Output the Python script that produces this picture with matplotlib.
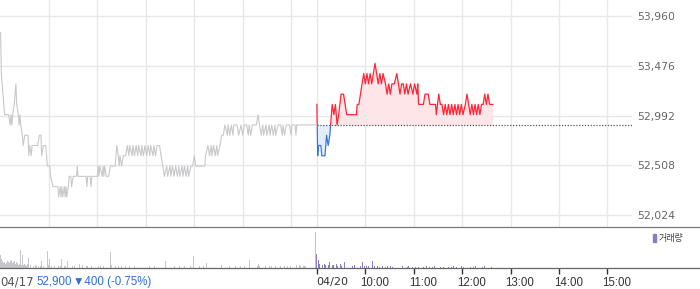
import numpy as np
import matplotlib
matplotlib.use("Agg")
import matplotlib.pyplot as plt
from matplotlib.patches import Rectangle
import matplotlib.transforms as mtransforms

# ---------------- data ----------------
prev_close = 52900          # 04/17 close (base line for 04/20)
day2_offset = 392           # x position (minutes) of 04/20 09:00 on the shared axis

# 04/17 intraday: minutes after 09:00, price
d1_min = [0, 1, 2, 3, 4, 5, 10, 12, 13, 14, 15, 17, 19, 20, 22, 23, 24, 25, 27, 28, 30, 34, 35, 36, 38, 39,
          46, 48, 50, 51, 53, 56, 58, 61, 62, 65, 71, 72, 74, 75, 76, 77, 79, 80, 81, 82, 84, 85, 87, 88,
          90, 94, 95, 96, 106, 107, 108, 111, 112, 113, 120, 121, 122, 123, 126, 127, 128, 129, 131, 134,
          136, 142, 144, 146, 147, 148, 150, 152, 155, 157, 159, 160, 163, 164, 166, 168, 170, 171, 174,
          175, 177, 179, 181, 183, 185, 186, 189, 190, 192, 194, 197, 199, 201, 203, 206, 207, 210, 211,
          213, 215, 217, 219, 221, 222, 225, 226, 228, 230, 232, 233, 236, 238, 240, 242, 253, 254, 257,
          259, 261, 262, 264, 266, 268, 269, 272, 274, 276, 278, 281, 282, 284, 286, 288, 289, 293, 295,
          298, 300, 302, 305, 307, 308, 310, 312, 317, 319, 321, 323, 325, 326, 329, 330, 333, 334, 336,
          338, 340, 341, 344, 347, 349, 350, 352, 354, 358, 360, 361, 365, 366, 367, 390]
d1_price = [53800, 53400, 53300, 53200, 53100, 53000, 53000, 52900, 53000, 52900, 53000, 53100, 53300,
            53100, 53000, 52900, 53000, 52900, 52800, 52700, 52800, 52800, 52600, 52700, 52600, 52700,
            52700, 52800, 52800, 52600, 52700, 52700, 52500, 52500, 52400, 52300, 52300, 52200, 52300,
            52200, 52300, 52200, 52300, 52200, 52300, 52200, 52300, 52400, 52400, 52300, 52400, 52400,
            52500, 52400, 52400, 52300, 52400, 52400, 52300, 52400, 52400, 52500, 52400, 52500, 52400,
            52500, 52400, 52500, 52400, 52400, 52500, 52500, 52700, 52600, 52500, 52600, 52500, 52600,
            52600, 52700, 52600, 52700, 52600, 52700, 52600, 52700, 52600, 52700, 52600, 52700, 52600,
            52700, 52600, 52700, 52600, 52700, 52600, 52700, 52600, 52700, 52700, 52600, 52500, 52400,
            52500, 52400, 52500, 52400, 52500, 52400, 52500, 52400, 52500, 52400, 52500, 52400, 52500,
            52400, 52500, 52400, 52500, 52500, 52600, 52500, 52500, 52600, 52700, 52600, 52700, 52600,
            52700, 52600, 52700, 52600, 52700, 52800, 52800, 52900, 52800, 52900, 52800, 52900, 52800,
            52900, 52900, 52800, 52900, 52800, 52900, 52900, 52800, 52900, 52800, 52900, 52900, 53000,
            52900, 52800, 52900, 52800, 52900, 52800, 52900, 52800, 52900, 52800, 52900, 52800, 52900,
            52900, 52800, 52900, 52800, 52900, 52900, 52800, 52900, 52900, 52800, 52900, 52900]

# 04/20 intraday: minutes after 09:00, price
d2_min = [0, 1, 2, 5, 6, 10, 11, 12, 14, 16, 17, 19, 21, 23, 25, 27, 30, 33, 35, 37, 49, 50, 52, 54, 56,
          58, 60, 62, 64, 66, 68, 70, 72, 74, 76, 78, 80, 82, 85, 87, 89, 91, 93, 96, 99, 101, 103, 105,
          107, 109, 111, 113, 116, 119, 121, 124, 125, 126, 132, 134, 138, 140, 147, 148, 151, 153, 155,
          157, 159, 161, 163, 165, 167, 169, 171, 173, 175, 177, 179, 181, 184, 186, 188, 190, 192, 194,
          196, 198, 200, 202, 204, 206, 208, 210, 212, 214, 218]
d2_price = [53100, 52600, 52700, 52700, 52600, 52600, 52700, 52800, 52700, 52800, 52900, 53100, 53000,
            53100, 52900, 53000, 53200, 53200, 53100, 53000, 53000, 53100, 53100, 53200, 53300, 53400,
            53300, 53400, 53300, 53400, 53300, 53400, 53500, 53400, 53300, 53400, 53300, 53400, 53300,
            53200, 53300, 53200, 53300, 53300, 53400, 53300, 53200, 53300, 53300, 53200, 53300, 53200,
            53300, 53200, 53300, 53200, 53300, 53100, 53100, 53200, 53200, 53100, 53100, 53000, 53200,
            53100, 53100, 53000, 53100, 53000, 53100, 53000, 53100, 53000, 53100, 53000, 53100, 53000,
            53100, 53000, 53100, 53200, 53100, 53000, 53100, 53000, 53100, 53000, 53100, 53000, 53100,
            53100, 53200, 53100, 53200, 53100, 53100]

# volume (shares), 04/17
v1_min = [0, 1, 2, 4, 5, 6, 7, 9, 10, 11, 12, 14, 15, 16, 17, 19, 20, 21, 22, 23, 25, 26, 27, 28, 30, 31,
          32, 33, 35, 37, 39, 41, 43, 45, 47, 49, 51, 53, 55, 58, 59, 61, 63, 65, 67, 70, 72, 74, 76, 79,
          80, 83, 86, 89, 92, 96, 98, 102, 106, 108, 113, 117, 121, 124, 128, 132, 136, 137, 142, 146,
          150, 155, 158, 160, 164, 166, 169, 174, 179, 185, 191, 200, 204, 205, 210, 216, 222, 228, 235,
          239, 241, 247, 251, 255, 257, 262, 267, 272, 274, 277, 284, 291, 297, 302, 308, 314, 318, 320,
          321, 328, 333, 336, 341, 345, 347, 350, 352, 356, 359, 367, 370, 372, 375, 377, 378, 390]
v1_vol = [13000, 9000, 7000, 5000, 6000, 4000, 5000, 7000, 6000, 5000, 7000, 8000, 5000, 6000, 7000,
          4000, 6000, 5000, 3000, 4000, 17700, 3000, 12700, 3000, 4000, 3000, 2000, 4000, 10000, 3000,
          2000, 2000, 3000, 2000, 1500, 2000, 6700, 2000, 2000, 16700, 3000, 8700, 2000, 2000, 1500,
          6000, 2000, 2000, 8700, 2000, 1500, 6700, 6000, 2000, 1500, 2000, 4000, 2500, 1500, 2000, 1500,
          2000, 1500, 2000, 1500, 2000, 16000, 2500, 1500, 2000, 1500, 2000, 1500, 2000, 18700, 2000,
          1500, 1500, 2000, 1500, 1500, 13300, 6700, 2000, 1000, 1500, 1500, 1500, 2000, 11700, 1500,
          1500, 1500, 4500, 1500, 1500, 1500, 3500, 2500, 2000, 1500, 1500, 1500, 1500, 7700, 1500, 2000,
          3500, 2000, 1500, 2000, 1500, 1500, 2000, 2000, 1500, 2000, 2000, 2000, 2500, 2500, 2000, 2000,
          2000, 1500, 35500]

# volume (shares), 04/20
v2_min = [0, 2, 3, 5, 7, 9, 11, 14, 16, 19, 21, 24, 26, 29, 31, 34, 36, 41, 44, 47, 51, 54, 57, 59, 61,
          64, 69, 71, 72, 75, 78, 81, 85, 88, 91, 94, 98, 103, 106, 108, 112, 114, 118, 122, 126, 129,
          132, 136, 140, 143, 146, 150, 153, 157, 160, 163, 167, 169, 173, 176, 179, 182, 186, 190, 194,
          197, 201, 205, 208, 212, 216]
v2_vol = [13300, 7700, 4000, 3000, 3000, 3500, 3000, 2500, 5500, 3000, 2500, 4000, 2000, 3500, 2000,
          5300, 2000, 3000, 1500, 3000, 1500, 2000, 6000, 2000, 1500, 1500, 6700, 2000, 3000, 1500, 1000,
          1500, 1000, 1500, 2000, 1000, 1000, 2000, 1500, 1000, 1000, 1500, 1000, 1000, 1000, 1000, 1000,
          2000, 1000, 1000, 1500, 1000, 1000, 1000, 1500, 1000, 1000, 1500, 1000, 1000, 1500, 1000, 1500,
          1000, 1000, 1500, 1000, 1000, 1500, 1000, 1000]

y_ticks = [52024, 52508, 52992, 53476, 53960]
d1_grid_min = [60, 120, 180, 240, 300, 360]
x_tick_min = [0, 60, 120, 180, 240, 300, 360]
x_tick_labels = ["04/20", "10:00", "11:00", "12:00", "13:00", "14:00", "15:00"]
info_date = "04/17"
info_price = "52,900"
info_change = "\u25bc400 (-0.75%)"
legend_label = "거래량"

# ---------------- style ----------------
W, H = 700, 289
fig = plt.figure(figsize=(W / 100, H / 100), dpi=100)

def fx(px):
    return px / W

def fy(py):
    return 1 - py / H

ax_right = 632
ax = fig.add_axes([0, fy(227), fx(ax_right), fy(0) - fy(227)])
axv = fig.add_axes([0, fy(267.7), fx(ax_right), fy(227) - fy(267.7)])

xlim = (-0.7, 782.5)
GRID = "#e8e8ea"
GREY_LINE = "#c9c9cd"
RED = "#ff2536"
BLUE = "#3b78d8"
PINK = "#fde5e8"
LBLUE = "#e4eefb"

# price axes
ax.set_xlim(*xlim)
ax.set_ylim(51907, 54116)
for s in ax.spines.values():
    s.set_visible(False)
ax.set_xticks([m for m in d1_grid_min] + [day2_offset + m for m in x_tick_min])
ax.set_xticklabels([])
ax.tick_params(axis="x", length=0)
ax.set_yticks(y_ticks)
ax.set_yticklabels([f"{v:,}" for v in y_ticks])
ax.yaxis.tick_right()
ax.tick_params(axis="y", length=0, pad=4.0, labelsize=7.8, labelcolor="#666666")
for lab in ax.get_yticklabels():
    lab.set_family("DejaVu Sans")
ax.grid(True, color=GRID, linewidth=1.0)
ax.set_axisbelow(True)

# day 1 line
ax.plot(d1_min, d1_price, color=GREY_LINE, lw=0.8, zorder=3)

# day 2 line and fills
x2 = np.array(d2_min) + day2_offset
p2 = np.array(d2_price)
clip_up = Rectangle((xlim[0], prev_close), xlim[1] - xlim[0], 5000, transform=ax.transData)
clip_dn = Rectangle((xlim[0], prev_close - 5000), xlim[1] - xlim[0], 5000, transform=ax.transData)
f_up = ax.fill_between(x2, p2, prev_close, color=PINK, lw=0, zorder=2)
f_up.set_clip_path(clip_up)
f_dn = ax.fill_between(x2, p2, prev_close, color=LBLUE, lw=0, zorder=2)
f_dn.set_clip_path(clip_dn)
ax.hlines(prev_close, day2_offset, xlim[1] - 0.5, colors="#555555", linestyles=(0, (1, 1.3)), lw=0.9, zorder=4)
l_up, = ax.plot(x2, p2, color=RED, lw=0.9, zorder=5)
l_up.set_clip_path(clip_up)
l_dn, = ax.plot(x2, p2, color=BLUE, lw=0.9, zorder=5)
l_dn.set_clip_path(clip_dn)

# volume axes
axv.set_xlim(*xlim)
axv.set_ylim(0, 40700)
for s in axv.spines.values():
    s.set_visible(False)
axv.set_yticks([])
axv.bar(v1_min, v1_vol, width=1.0, color="#c6c6ca", linewidth=0, align="center")
axv.bar(np.array(v2_min) + day2_offset, v2_vol, width=1.0, color="#8e7cc3", linewidth=0, align="center")
axv.set_xticks([day2_offset + m for m in x_tick_min])
axv.set_xticklabels(x_tick_labels, ha="left")
axv.tick_params(axis="x", length=4, width=1, color="#333333", direction="out", pad=2.6,
                labelsize=8.3, labelcolor="#333333")
for i, lab in enumerate(axv.get_xticklabels()):
    if i == 0:
        lab.set_family("DejaVu Sans")
        lab.set_fontsize(8.0)
        dx = -1
    else:
        lab.set_family("Liberation Sans")
        dx = -5
    lab.set_transform(lab.get_transform() + mtransforms.ScaledTranslation(dx / 100, 0, fig.dpi_scale_trans))

# full-width rules
fig.add_artist(plt.Line2D([0, 1], [fy(226.5), fy(226.5)], color="#7a7a7a", lw=0.9))
fig.add_artist(plt.Line2D([0, 1], [fy(267.7), fy(267.7)], color="#666666", lw=0.9))

# legend
fig.add_artist(Rectangle((fx(653.3), fy(241.7)), fx(3), (fy(234) - fy(241.7)), color="#8e7cc3",
                         transform=fig.transFigure))
fig.text(fx(658.3), fy(238), legend_label, fontsize=6.5, color="#444444", va="center", ha="left",
         family=["Noto Sans CJK KR", "DejaVu Sans"])

# bottom-left info
fig.text(fx(0), fy(282), info_date, fontsize=8.4, color="#555555", va="center", ha="left",
         family=["DejaVu Sans"])
fig.text(fx(36.7), fy(282), info_price, fontsize=8.3, color="#2f6fd6", va="center", ha="left",
         family=["Liberation Sans", "DejaVu Sans"])
fig.text(fx(73), fy(282), info_change, fontsize=8.3, color="#2f6fd6", va="center", ha="left",
         family=["Liberation Sans", "DejaVu Sans"])

fig.savefig("out.png", dpi=100)
